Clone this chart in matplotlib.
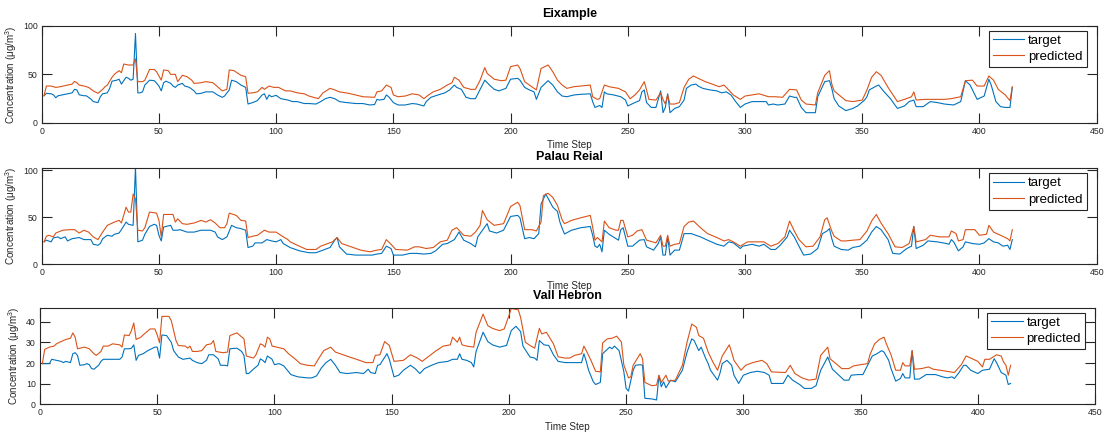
import matplotlib.pyplot as plt

plt.rcParams["font.family"] = ["Liberation Sans", "DejaVu Sans"]
plt.rcParams["mathtext.fontset"] = "custom"
plt.rcParams["mathtext.rm"] = "Liberation Sans"
plt.rcParams["mathtext.it"] = "Liberation Sans:italic"

# == DATA (time step, concentration) ==
stations = ["Eixample", "Palau Reial", "Vall Hebron"]

eixample_target = [
    (1, 28), (2, 30.5), (4, 30), (5, 29), (6, 26), (7, 28), (9, 29), (11, 30), (13, 31), (14, 34.6),
    (15, 34), (16, 29), (18, 28), (19, 28), (21, 24.6), (22, 22), (24, 21), (25, 27), (26, 30), (28, 31),
    (29, 35.6), (30, 43), (32, 44), (33, 45), (34, 40), (36, 47), (37, 46), (38, 44), (39, 45), (40, 92),
    (41, 31), (42, 31), (43, 32), (44, 39), (46, 44), (48, 43.5), (49, 41), (50, 38), (51, 33), (52, 41.4),
    (53, 43), (55, 40.8), (56, 38), (57, 36.6), (58, 39), (60, 40.7), (61, 38), (63, 36.6), (65, 33), (66, 30),
    (68, 30.5), (70, 32), (73, 32), (75, 28.8), (77, 26.4), (78, 27.7), (80, 34), (81, 44), (83, 42.5), (85, 39),
    (87, 36.6), (88, 19.5), (90, 21), (92, 23), (94, 28.8), (95, 30), (96, 24.3), (97, 28.8), (98, 27), (100, 28.4),
    (102, 25), (105, 23.6), (107, 22), (109, 22), (112, 20), (114, 20), (117, 19.5), (119, 22), (121, 25), (123, 26.4),
    (125, 25), (127, 22), (130, 21), (134, 20), (137, 20), (140, 18.5), (142, 19), (143, 24.3), (144, 23.6), (146, 24.3),
    (147, 28.8), (148, 27), (150, 21), (152, 18.5), (155, 18.5), (158, 20), (160, 19.5), (163, 17.5), (164, 22), (166, 26.4),
    (169, 28.8), (172, 31), (174, 34), (176, 39), (177, 36.6), (179, 34.6), (181, 26.4), (183, 25), (185, 25), (187, 34.6),
    (189, 44), (191, 39), (193, 34.6), (195, 33), (198, 35.6), (200, 45), (203, 45.9), (204, 44), (206, 36.6), (208, 34),
    (210, 32), (211, 24.3), (213, 36.6), (216, 43.5), (218, 39), (220, 32), (222, 27.7), (224, 27), (227, 28.8), (230, 29.5),
    (234, 30), (235, 22), (236, 16), (238, 18), (239, 16), (240, 32), (241, 30), (244, 28.8), (247, 27), (249, 23.6),
    (250, 17.5), (253, 21), (255, 23), (256, 32), (257, 34), (258, 21), (260, 16), (262, 16), (264, 33), (265, 10.6),
    (266, 16), (267, 30), (268, 10.6), (270, 15), (272, 16.8), (274, 23.6), (275, 35.6), (277, 39), (279, 40), (280, 38),
    (282, 35.6), (285, 34), (288, 33), (290, 31), (292, 32), (294, 28.8), (296, 22), (298, 16), (300, 19.5), (303, 22),
    (306, 22), (309, 22), (310, 18.5), (312, 19.5), (314, 18.5), (317, 19.5), (319, 27.7), (321, 26.4), (322, 26.4), (324, 16),
    (326, 10.6), (330, 10.6), (331, 27), (334, 42.5), (336, 43.5), (337, 35.6), (338, 25), (340, 17.5), (343, 12.7), (346, 15),
    (348, 17.5), (351, 23.6), (352, 27), (353, 34), (356, 38), (357, 39), (359, 33), (362, 25), (365, 15), (368, 17.5),
    (370, 22), (372, 23.6), (373, 16.8), (376, 16.8), (379, 22), (382, 21), (385, 19.5), (389, 18.5), (392, 22), (394, 43.5),
    (396, 39), (399, 24.3), (402, 27.7), (404, 45), (405, 39), (407, 22), (409, 16.8), (411, 16), (413, 16), (414, 36.6),
]
eixample_predicted = [
    (1, 28), (2, 38), (4, 38), (6, 36.6), (8, 37.3), (11, 39), (13, 40), (14, 42.8), (15, 41.4), (16, 39),
    (18, 38), (20, 36.6), (22, 33), (24, 30.5), (26, 34.6), (27, 37.3), (28, 39), (30, 47), (31, 50), (33, 53.8),
    (34, 51.7), (35, 60.6), (37, 59.6), (39, 59.6), (40, 66), (41, 42.5), (43, 42.5), (44, 44), (46, 55), (48, 55),
    (49, 52.7), (51, 44), (52, 54.5), (54, 53.8), (55, 50), (57, 50), (58, 42.5), (60, 49), (62, 47.6), (64, 44),
    (65, 40.7), (68, 41.4), (70, 42.5), (73, 41.4), (75, 37.3), (77, 33), (79, 34.6), (80, 54.5), (82, 53.8), (85, 49),
    (87, 47.6), (88, 30.5), (90, 31), (92, 32), (94, 36.6), (95, 34.6), (97, 38), (99, 36.6), (101, 36.6), (104, 33),
    (106, 33), (109, 31), (112, 30), (114, 27.7), (118, 25), (120, 31), (123, 35.6), (125, 34), (127, 32), (131, 30.5),
    (134, 28.8), (137, 27), (142, 26.4), (143, 32), (145, 33), (147, 39), (149, 36.6), (150, 28.8), (152, 27), (155, 27.7),
    (158, 30), (161, 28.8), (163, 25), (165, 28.8), (167, 32), (170, 34.6), (173, 39), (175, 41.4), (176, 47), (178, 44),
    (180, 36.6), (183, 34.6), (185, 34.6), (187, 44), (189, 57), (190, 51), (193, 45), (196, 43.5), (198, 44), (200, 57.9),
    (203, 59.6), (204, 56), (206, 42.5), (208, 39), (211, 34), (213, 56), (216, 59.6), (218, 52.7), (220, 44), (222, 39),
    (224, 35.6), (227, 37.3), (230, 38), (234, 39), (235, 27), (237, 24.3), (238, 25), (240, 39), (242, 37.3), (246, 35.6),
    (249, 32), (251, 25), (253, 28.8), (255, 34), (257, 42.5), (258, 34), (259, 24.3), (262, 23.6), (264, 31), (265, 24.3),
    (266, 19.5), (267, 28.8), (268, 19.5), (270, 19.5), (272, 21), (274, 36.6), (276, 45), (278, 48.3), (280, 46), (283, 42.5),
    (286, 40), (289, 37.3), (291, 39), (292, 36.6), (295, 28.8), (298, 24.3), (300, 27.7), (303, 28.8), (306, 30), (310, 27),
    (313, 27), (316, 26.4), (319, 34.6), (322, 34), (324, 23.6), (326, 19.5), (330, 18.5), (331, 31), (334, 49), (336, 53.8),
    (337, 40), (338, 33), (341, 27), (343, 23), (346, 22), (350, 23.6), (352, 34), (354, 47), (356, 52.7), (358, 49),
    (361, 36.6), (365, 22), (368, 24.3), (371, 27), (372, 32), (373, 23.6), (377, 24.3), (380, 24.3), (385, 24.3), (388, 25),
    (392, 27), (394, 43.5), (397, 44), (399, 38), (402, 38), (404, 48.3), (406, 44), (408, 34.6), (411, 28.8), (413, 23),
    (414, 37.3),
]

palau_target = [
    (1, 23.6), (2, 25.4), (4, 23.6), (5, 27.8), (7, 28.9), (8, 27), (10, 28.9), (11, 24.6), (13, 27), (16, 28.2),
    (18, 26), (21, 26), (22, 21), (24, 20), (25, 21.8), (26, 27), (28, 30.6), (30, 29.6), (31, 31.7), (33, 33),
    (34, 36.6), (36, 44.7), (37, 42.3), (39, 41.2), (40, 103), (41, 23.6), (43, 25.4), (44, 31.7), (46, 40), (48, 42.3),
    (49, 41.2), (50, 30.6), (51, 24.6), (52, 39.4), (55, 41.2), (56, 36), (58, 36), (59, 36.6), (62, 34), (65, 34),
    (68, 36), (72, 36), (74, 34), (75, 28.9), (77, 26), (79, 28.9), (80, 35.2), (81, 41.2), (83, 38.7), (85, 37.7),
    (87, 36), (88, 17.6), (90, 19), (91, 22.5), (94, 22.5), (96, 26), (98, 24.6), (100, 23.6), (102, 26), (103, 21.8),
    (106, 17.5), (110, 14), (114, 12), (117, 12), (120, 14.8), (123, 17.6), (125, 25.4), (126, 28.2), (127, 18.3), (130, 10.6),
    (134, 9.5), (141, 9.5), (143, 10.6), (145, 11.3), (147, 19), (149, 16.5), (150, 9.5), (154, 9.5), (157, 11.3), (160, 11.3),
    (163, 10.6), (166, 11.3), (168, 14), (171, 21), (173, 21.8), (176, 26), (178, 34), (180, 25.4), (183, 21.8), (185, 18.3),
    (186, 28.9), (188, 36), (190, 43), (191, 35.2), (194, 33), (197, 36), (200, 50.7), (203, 51.8), (204, 49.3), (206, 27),
    (208, 28.2), (210, 27), (212, 32.4), (213, 64), (215, 74.6), (218, 60.6), (220, 56), (221, 45), (222, 38), (223, 32),
    (226, 36), (230, 38.7), (234, 40), (235, 30.6), (236, 19), (237, 17.6), (238, 21), (239, 13), (240, 36), (242, 31.7),
    (245, 27), (246, 25.4), (247, 36.6), (248, 38.7), (250, 19), (252, 19), (255, 25.4), (257, 26), (258, 18.3), (261, 14.8),
    (263, 21.8), (264, 28.9), (265, 9.5), (266, 9.5), (267, 28.9), (268, 9.5), (270, 14.8), (272, 14.8), (274, 32.4), (277, 32.4),
    (281, 28.9), (284, 25.4), (288, 21), (291, 19), (293, 23.6), (295, 22.5), (298, 16.5), (299, 19), (303, 21), (306, 19),
    (308, 21), (311, 15.5), (313, 15.5), (315, 20), (318, 28.9), (319, 36), (321, 28.9), (323, 19), (325, 9.5), (328, 10.6),
    (331, 16.5), (333, 32.4), (335, 35.2), (336, 37.7), (337, 27), (338, 19), (341, 15.5), (344, 14.8), (346, 17.6), (349, 19),
    (352, 25.4), (354, 34), (356, 40), (358, 36.6), (361, 26), (363, 11.3), (366, 10.6), (369, 16.5), (371, 19), (372, 40),
    (373, 16.5), (376, 20), (378, 24.6), (382, 23.6), (386, 21.8), (387, 21), (388, 26), (389, 23.6), (391, 14), (393, 18.3),
    (394, 23.6), (397, 21.8), (400, 21), (402, 22.5), (404, 27), (406, 23.6), (408, 22.5), (410, 19), (412, 20), (413, 15.5),
    (414, 26),
]
palau_predicted = [
    (1, 23.6), (2, 29.6), (3, 30.6), (5, 28.9), (6, 33), (9, 36), (12, 36.6), (14, 36.6), (16, 33), (18, 36),
    (20, 34), (22, 28.9), (24, 26), (26, 34), (28, 41.2), (31, 44.7), (33, 46.5), (34, 43.7), (36, 60.6), (37, 55.3),
    (38, 55.3), (39, 74.6), (40, 69.4), (41, 36), (43, 35.2), (44, 38.7), (46, 55.3), (49, 54.2), (50, 46.5), (51, 28.9),
    (52, 52.8), (56, 52.8), (57, 44.7), (58, 48.2), (60, 43), (62, 42.3), (65, 43.7), (68, 46.5), (70, 44.7), (72, 47.2),
    (74, 43.7), (76, 38.7), (78, 38.7), (79, 43), (80, 54.2), (83, 51.8), (85, 46.5), (87, 45.8), (88, 28.2), (90, 29.6),
    (92, 30.6), (95, 36), (97, 34), (100, 34), (102, 30.6), (105, 26), (106, 23.6), (109, 20), (113, 15.5), (117, 15.5),
    (119, 19), (122, 21.8), (124, 23.6), (126, 28.2), (128, 21.8), (132, 18.3), (136, 14.8), (140, 13), (143, 14.8), (145, 15.5),
    (147, 26), (149, 21), (151, 15.5), (156, 14.8), (159, 18.3), (161, 18.3), (164, 16.5), (167, 17.6), (170, 23.6), (173, 25.4),
    (175, 36), (177, 38.7), (180, 30.6), (183, 29.6), (185, 34), (187, 41.2), (188, 57), (190, 47.2), (193, 41.2), (197, 43),
    (200, 61.3), (203, 65.8), (204, 62.3), (206, 36.6), (209, 36.6), (211, 35.2), (213, 44.7), (214, 72.9), (216, 75.4), (218, 71),
    (220, 62.3), (222, 47), (223, 43), (226, 46.5), (230, 49.3), (234, 51.8), (235, 39.4), (236, 25.4), (237, 28.2), (239, 23.6),
    (240, 45.8), (242, 38.7), (245, 36), (246, 36), (247, 46.5), (248, 46.5), (250, 28.9), (252, 30.6), (254, 35.2), (256, 36.6),
    (258, 25.4), (262, 22.5), (264, 30.6), (265, 19), (266, 19), (267, 30.6), (268, 19), (270, 21), (272, 21.8), (274, 40),
    (276, 44.7), (278, 45.8), (281, 38.7), (284, 32.4), (288, 28.2), (291, 24.6), (293, 26), (295, 23.6), (298, 19), (301, 23.6),
    (304, 23.6), (308, 23.6), (311, 19), (314, 21.8), (317, 28.9), (319, 45.8), (321, 35.2), (323, 26), (326, 18.3), (329, 19),
    (332, 28.9), (334, 47.2), (335, 49.3), (336, 42), (337, 35), (338, 29.6), (341, 24.6), (343, 24.6), (346, 25.4), (349, 26),
    (352, 35.2), (354, 45.8), (356, 52.8), (358, 43.7), (361, 32.4), (364, 18.3), (367, 17.6), (370, 21.8), (372, 40), (373, 23.6),
    (377, 26), (379, 30.6), (383, 28.9), (387, 28.9), (388, 35.2), (390, 32.4), (391, 24.6), (393, 26), (394, 36.6), (398, 36.6),
    (400, 30.6), (403, 31.7), (404, 41.2), (406, 34), (409, 30.6), (412, 27), (413, 24.6), (414, 36.6),
]

vall_target = [
    (1, 19.7), (4, 19.7), (5, 21.8), (7, 21.3), (9, 20.8), (10, 20.2), (11, 20.8), (13, 20.2), (14, 24.5), (15, 25),
    (16, 23.7), (17, 18.9), (19, 19.2), (20, 19.7), (21, 19.2), (22, 17.3), (23, 17), (25, 18.9), (26, 20.8), (27, 21.8),
    (34, 21.8), (35, 22.9), (36, 26.9), (38, 26.9), (39, 27.2), (40, 28.8), (41, 21.3), (42, 23.7), (44, 24.5), (46, 26),
    (49, 27.7), (50, 27.7), (51, 22.4), (52, 33.6), (54, 33.3), (56, 30), (57, 26), (59, 22.9), (61, 21.8), (64, 22.4),
    (65, 21.3), (67, 20.2), (69, 19.7), (71, 21.3), (72, 24), (74, 24), (76, 22), (77, 18.9), (79, 18.9), (80, 18.6),
    (81, 26.9), (84, 27.2), (86, 25.6), (87, 23.7), (88, 14.9), (89, 14.9), (91, 17), (93, 18.9), (94, 22), (95, 21.3),
    (96, 20.2), (97, 23.4), (99, 21.8), (100, 19.2), (102, 19.7), (104, 18.6), (107, 14.4), (110, 13.3), (114, 12.8), (116, 12.8),
    (118, 13.8), (120, 17.6), (122, 20.2), (124, 21.8), (126, 18.9), (128, 15.4), (131, 14.9), (135, 15.4), (138, 14.9), (140, 17),
    (141, 15.4), (143, 14.9), (144, 18.9), (145, 19.2), (148, 24.5), (149, 21.8), (151, 13.3), (153, 14.1), (155, 16.5), (158, 18.9),
    (160, 17.3), (162, 14.9), (164, 17.3), (167, 18.9), (170, 20.2), (174, 20.8), (176, 21.8), (178, 21.8), (179, 24.5), (180, 21.8),
    (182, 21.3), (184, 20.2), (185, 18.1), (186, 25.6), (189, 34.9), (191, 30.4), (193, 28.8), (196, 27.7), (199, 28.5), (201, 35.7),
    (203, 37.8), (205, 35.2), (206, 28.2), (209, 22.9), (211, 22.4), (212, 21.3), (213, 30.9), (215, 28.8), (217, 28.5), (219, 24),
    (221, 20.8), (224, 20.2), (227, 20.2), (231, 20.2), (232, 24.5), (233, 20.8), (234, 16.5), (236, 10.9), (237, 9.6), (239, 10.6),
    (240, 24.5), (241, 25.6), (243, 27.7), (244, 26.9), (245, 28.2), (247, 26), (249, 16), (250, 7.7), (251, 6.4), (253, 16.5),
    (254, 18.9), (256, 19.2), (257, 18.9), (258, 2.9), (261, 2.6), (263, 2.1), (264, 13.8), (265, 8.5), (266, 10.9), (267, 8),
    (269, 11.7), (271, 10.9), (274, 16.5), (276, 25.3), (278, 31.7), (279, 30.9), (281, 26), (282, 27.7), (284, 22.1), (285, 19.7),
    (286, 16.5), (289, 11.7), (290, 14.9), (291, 19.7), (293, 21.3), (295, 18.9), (296, 14.1), (298, 10.1), (300, 14.1), (303, 15.4),
    (306, 16), (309, 15.4), (311, 14.1), (312, 10.1), (317, 10.1), (319, 14.1), (321, 11.7), (324, 9.6), (326, 7.7), (329, 7.7),
    (331, 9), (333, 16.5), (336, 22.9), (338, 17), (340, 14.9), (343, 11.7), (345, 11.7), (346, 14.1), (349, 14.4), (351, 14.4),
    (353, 18.9), (355, 23.4), (357, 24.5), (359, 26), (360, 25.3), (362, 21.3), (363, 17.3), (365, 11.2), (367, 12.5), (368, 14.9),
    (369, 12.8), (371, 12.8), (372, 26), (373, 12.2), (375, 12.2), (378, 14.4), (382, 14.4), (385, 13.3), (387, 12.8), (389, 13.3),
    (390, 12.5), (392, 15.4), (394, 18.9), (395, 18.9), (397, 16.5), (400, 14.9), (402, 16.5), (405, 17), (407, 22.1), (408, 20.2),
    (410, 15.4), (412, 14.1), (413, 9.6), (414, 10.1),
]
vall_predicted = [
    (1, 19.7), (2, 26.6), (4, 27.7), (6, 28.2), (7, 29.3), (9, 30.4), (11, 31.4), (13, 32), (14, 34.6), (15, 32.5),
    (16, 26.9), (19, 27.7), (21, 26.9), (23, 24.5), (24, 23.7), (26, 25.6), (27, 28.2), (29, 28.2), (31, 29.3), (34, 28.8),
    (35, 27.7), (36, 33.6), (38, 33.3), (39, 35.7), (40, 39.4), (41, 31.4), (43, 32.5), (44, 33.6), (47, 36.5), (49, 36.5),
    (50, 33.6), (51, 29.8), (52, 42.6), (55, 42.6), (56, 40.5), (58, 30.9), (59, 28.5), (62, 28.2), (63, 27.2), (64, 28.2),
    (65, 25.6), (67, 25.6), (69, 26), (71, 28.8), (73, 29.3), (74, 30.9), (75, 25.6), (78, 25), (80, 25.3), (81, 33.3),
    (84, 34.6), (85, 33.6), (87, 31.7), (88, 23.4), (91, 22.4), (92, 23.7), (94, 29.3), (95, 28.8), (96, 27.7), (97, 32.5),
    (98, 31.7), (99, 28.2), (101, 27.7), (104, 26.9), (106, 24.5), (109, 21.8), (111, 19.7), (114, 18.9), (117, 18.6), (119, 22.4),
    (121, 26), (124, 27.7), (126, 25.3), (130, 23.7), (135, 21.8), (139, 20.2), (142, 20.2), (143, 23.7), (145, 24), (147, 30.4),
    (149, 28.5), (151, 20.8), (155, 21.3), (158, 24), (161, 22.4), (163, 20.8), (166, 23.4), (169, 26), (172, 28.2), (175, 28.8),
    (176, 32.5), (178, 30.1), (179, 32.5), (180, 28.8), (182, 28.2), (185, 27.7), (186, 34.9), (189, 43.7), (191, 38.1), (193, 36.8),
    (196, 35.7), (198, 36.5), (200, 42.9), (201, 46.4), (204, 45.8), (205, 42.1), (207, 30.1), (209, 28.5), (211, 27.2), (213, 36.8),
    (214, 34.1), (216, 34.9), (219, 29.3), (221, 23), (224, 22.4), (226, 22.4), (228, 23.7), (231, 24.5), (232, 28.2), (233, 26),
    (235, 21.3), (237, 16), (239, 15.7), (240, 29.8), (242, 31.7), (244, 32), (246, 33), (248, 30.1), (249, 19.2), (251, 12.8),
    (252, 13.3), (253, 18.9), (256, 24.5), (257, 22.1), (258, 10.6), (261, 9), (263, 9.3), (264, 14.1), (265, 10.6), (267, 14.1),
    (268, 11.2), (271, 11.7), (274, 18.9), (276, 30.1), (278, 38.9), (280, 37.3), (281, 33.3), (283, 32), (285, 25.3), (287, 20.5),
    (289, 16.5), (291, 23.4), (294, 28.8), (295, 25.3), (296, 21.3), (299, 16.5), (301, 18.9), (304, 20.2), (308, 21.3), (310, 19.7),
    (312, 15.7), (318, 15.4), (320, 18.9), (322, 14.9), (325, 12.8), (328, 11.7), (331, 12.2), (333, 23.7), (336, 27.7), (337, 22),
    (339, 20.2), (342, 17.3), (345, 17.3), (347, 18.6), (350, 19.2), (353, 19.7), (354, 24), (356, 29.3), (358, 31.4), (360, 32.5),
    (361, 29.3), (363, 24), (365, 16.5), (367, 16.5), (368, 20.2), (369, 18.6), (371, 18.6), (372, 26), (373, 17), (376, 17.3),
    (379, 18.1), (381, 17), (384, 16.5), (390, 15.4), (393, 19.2), (395, 23.4), (397, 22.4), (400, 20.8), (402, 18.1), (403, 21.8),
    (405, 21.8), (408, 24), (410, 23.4), (411, 20.5), (412, 18.9), (413, 14.1), (414, 18.9),
]

targets = [eixample_target, palau_target, vall_target]
predictions = [eixample_predicted, palau_predicted, vall_predicted]
y_max = [100, 102, 46.8]
y_ticks = [[0, 50, 100], [0, 50, 100], [0, 10, 20, 30, 40]]

# == LAYOUT (pixel boxes: left, top, right, bottom) ==
W, H = 1112, 432
boxes = [(41.7, 25.7, 1096.7, 123.0), (41.7, 168.3, 1096.7, 264.0), (40.0, 307.7, 1095.0, 404.3)]
c_blue = "#0072BD"
c_orange = "#D95319"
c_axis = "#262626"

fig = plt.figure(figsize=(W / 100, H / 100), dpi=100)

for i, name in enumerate(stations):
    l, t, r, b = boxes[i]
    ax = fig.add_axes([l / W, 1 - b / H, (r - l) / W, (b - t) / H])

    tt, tv = zip(*targets[i])
    pt, pv = zip(*predictions[i])
    ax.plot(tt, tv, color=c_blue, lw=0.8, label="target")
    ax.plot(pt, pv, color=c_orange, lw=0.8, label="predicted")

    ax.set_xlim(0, 450)
    ax.set_ylim(0, y_max[i])
    ax.set_xticks(range(0, 451, 50))
    ax.set_yticks(y_ticks[i])
    ax.tick_params(direction="in", top=True, right=True, length=7, width=0.8,
                   color=c_axis, labelcolor=c_axis, labelsize=6.3, pad=3)
    for sp in ax.spines.values():
        sp.set_color(c_axis)
        sp.set_linewidth(0.8)

    ax.set_title(name, fontsize=9, fontweight="bold", color="black", pad=6)
    ax.set_xlabel("Time Step", fontsize=7.1, color=c_axis, labelpad=3)
    ax.set_ylabel("Concentration (μg/m$^3$)", fontsize=7.1, color=c_axis, labelpad=3)

    leg = ax.legend(loc="upper right", bbox_to_anchor=(1 - 10 / 1055, 1 - 5 / 97),
                    fontsize=9.5, fancybox=False, framealpha=1, edgecolor=c_axis,
                    borderpad=0.3, labelspacing=0.3, handlelength=2.4,
                    handletextpad=0.3, borderaxespad=0)
    leg.get_frame().set_linewidth(0.8)

fig.savefig("out.png", dpi=100)
